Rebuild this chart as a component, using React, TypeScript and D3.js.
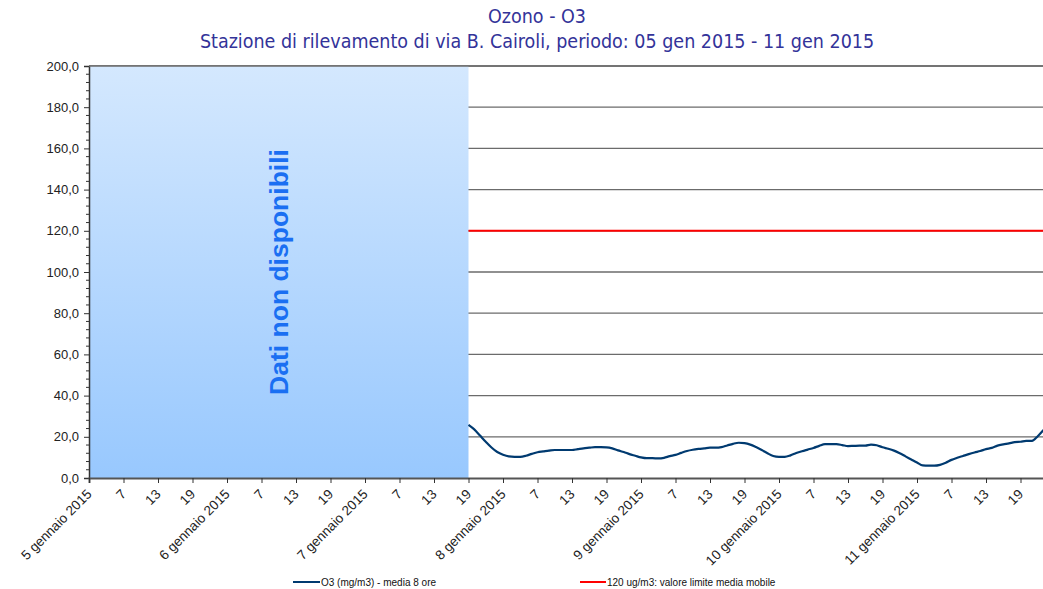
import React, { useEffect, useRef } from "react";
import * as d3 from "d3";

// hours counted from 5 gen 2015 01:00, one tick every 6 hours
const dayLabels = ["5 gennaio 2015", "6 gennaio 2015", "7 gennaio 2015", "8 gennaio 2015", "9 gennaio 2015", "10 gennaio 2015", "11 gennaio 2015"];
const hourLabels = ["7", "13", "19"];
const yTicks = [0, 20, 40, 60, 80, 100, 120, 140, 160, 180, 200];
const limitValue = 120;
const missingUntil = 66; // 7 gen 19:00

// O3 media 8 ore, hourly, from hour 66 (7 gen 19:00)
const o3Start = 66;
const o3Values = [
  25.8, 23.6, 20.6, 17.6, 14.8, 12.6, 11.3, 10.5, 10.3, 10.3, 10.8, 11.7,
  12.5, 12.9, 13.3, 13.6, 13.6, 13.6, 13.6, 14.0, 14.4, 14.7, 15.0, 15.0,
  14.9, 14.4, 13.4, 12.6, 11.6, 10.8, 10.0, 9.6, 9.6, 9.5, 9.8, 10.6,
  11.2, 12.2, 13.1, 13.7, 14.1, 14.4, 14.7, 14.7, 15.0, 15.8, 16.6, 17.1,
  16.9, 16.2, 15.0, 13.6, 12.0, 10.7, 10.3, 10.3, 11.0, 12.1, 13.0, 13.8,
  14.6, 15.6, 16.4, 16.4, 16.4, 16.0, 15.5, 15.6, 15.7, 15.7, 16.2, 15.9,
  14.9, 14.2, 13.3, 12.0, 10.5, 9.0, 7.5, 6.1, 6.0, 6.0, 6.4, 7.4,
  8.8, 9.8, 10.7, 11.6, 12.4, 13.1, 14.0, 14.6, 15.7, 16.3, 16.8, 17.4,
  17.6, 18.0, 18.0, 20.3, 23.3,
];

const W = 1043;
const H = 589;

export default function App() {
  const ref = useRef<SVGSVGElement | null>(null);

  useEffect(() => {
    const svg = d3.select(ref.current);
    svg.selectAll("*").remove();

    const left = 89;
    const top = 66;
    const bottom = 478;
    const totalHours = 168;

    const x = d3.scaleLinear().domain([0, totalHours]).range([left, left + totalHours * 5.75]);
    const y = d3.scaleLinear().domain([0, 200]).range([bottom, top]);
    const right = x(totalHours);

    // gradient for the missing data block
    const defs = svg.append("defs");
    const grad = defs.append("linearGradient").attr("id", "nd").attr("x1", 0).attr("y1", 0).attr("x2", 0).attr("y2", 1);
    grad.append("stop").attr("offset", "0%").attr("stop-color", "#d4e8fe");
    grad.append("stop").attr("offset", "100%").attr("stop-color", "#98c8fe");

    // titles
    const title = svg.append("g").attr("fill", "#333399").attr("font-family", "DejaVu Sans Condensed, DejaVu Sans").attr("text-anchor", "middle");
    title.append("text").attr("x", 537).attr("y", 23).attr("font-size", 19.5).text("Ozono - O3");
    title.append("text").attr("x", 537).attr("y", 48).attr("font-size", 19.5).text("Stazione di rilevamento di via B. Cairoli, periodo: 05 gen 2015 - 11 gen 2015");

    // grid lines
    svg.append("g")
      .selectAll("line")
      .data(yTicks.filter((d) => d > 0))
      .enter()
      .append("line")
      .attr("x1", left)
      .attr("x2", right)
      .attr("y1", (d) => y(d))
      .attr("y2", (d) => y(d))
      .attr("stroke", "#6b6b6b")
      .attr("stroke-width", 1.3);

    // missing data block
    svg.append("rect")
      .attr("x", x(0))
      .attr("y", y(200))
      .attr("width", x(missingUntil) - x(0))
      .attr("height", y(0) - y(200))
      .attr("fill", "url(#nd)");

    svg.append("text")
      .attr("transform", `translate(${(x(0) + x(missingUntil)) / 2 + 9},${(top + bottom) / 2}) rotate(-90)`)
      .attr("text-anchor", "middle")
      .attr("font-family", "Liberation Sans, Arial, sans-serif")
      .attr("font-weight", "bold")
      .attr("font-size", 26.5)
      .attr("fill", "#1a6ff2")
      .text("Dati non disponibili");

    // limit line
    svg.append("line")
      .attr("x1", x(missingUntil))
      .attr("x2", right)
      .attr("y1", y(limitValue))
      .attr("y2", y(limitValue))
      .attr("stroke", "#ff0000")
      .attr("stroke-width", 2);

    // O3 series
    const line = d3.line<number>()
      .x((_, i) => x(o3Start + i))
      .y((d) => y(d))
      .curve(d3.curveMonotoneX);
    svg.append("path")
      .datum(o3Values)
      .attr("d", line)
      .attr("fill", "none")
      .attr("stroke", "#003a70")
      .attr("stroke-width", 2.2);

    // y axis
    const yAxis = d3.axisLeft(y).tickValues(yTicks).tickSize(5).tickFormat((d) => d3.format(".1f")(d as number).replace(".", ","));
    const gy = svg.append("g").attr("transform", `translate(${left},0)`).call(yAxis);
    gy.selectAll("text").attr("font-family", "Liberation Sans, Arial, sans-serif").attr("font-size", 13).attr("fill", "#222").attr("dx", -2);
    gy.select(".domain").attr("stroke", "#333").attr("stroke-width", 1.5);
    gy.selectAll(".tick line").attr("stroke", "#333");
    // minor ticks
    svg.append("g")
      .selectAll("line")
      .data(d3.range(0, 201, 4).filter((d) => d % 20 !== 0))
      .enter()
      .append("line")
      .attr("x1", left - 3)
      .attr("x2", left)
      .attr("y1", (d) => y(d))
      .attr("y2", (d) => y(d))
      .attr("stroke", "#333");

    // top border
    svg.append("line").attr("x1", left).attr("x2", right).attr("y1", top).attr("y2", top).attr("stroke", "#6b6b6b").attr("stroke-width", 1.3);

    // x axis
    const xTickHours = d3.range(0, totalHours + 1, 6);
    const xLabel = (h: number) => {
      const k = (h / 6) % 4;
      return k === 0 ? dayLabels[h / 24] ?? "" : hourLabels[k - 1];
    };
    const xAxis = d3.axisBottom(x).tickValues(xTickHours).tickSize(5).tickFormat((d) => xLabel(d as number));
    const gx = svg.append("g").attr("transform", `translate(0,${bottom})`).call(xAxis);
    gx.select(".domain").attr("stroke", "#555").attr("stroke-width", 2);
    gx.selectAll(".tick line").attr("stroke", "#333");
    gx.selectAll("text")
      .attr("font-family", "Liberation Sans, Arial, sans-serif")
      .attr("font-size", 13.5)
      .attr("fill", "#222")
      .attr("text-anchor", "end")
      .attr("dy", 0)
      .attr("y", 0)
      .attr("transform", "translate(3,17) rotate(-45)");

    // legend
    const legend = svg.append("g").attr("font-family", "Liberation Sans, Arial, sans-serif").attr("font-size", 10).attr("fill", "#111");
    legend.append("line").attr("x1", 293).attr("x2", 320).attr("y1", 582).attr("y2", 582).attr("stroke", "#003a70").attr("stroke-width", 2);
    legend.append("text").attr("x", 321).attr("y", 586).text("O3 (mg/m3) - media 8 ore");
    legend.append("line").attr("x1", 580).attr("x2", 606).attr("y1", 582).attr("y2", 582).attr("stroke", "#ff0000").attr("stroke-width", 2);
    legend.append("text").attr("x", 607).attr("y", 586).text("120 ug/m3: valore limite media mobile");
  }, []);

  return (
    <svg ref={ref} width={W} height={H} style={{ position: "absolute", left: 0, top: 0, background: "#fff" }} />
  );
}
